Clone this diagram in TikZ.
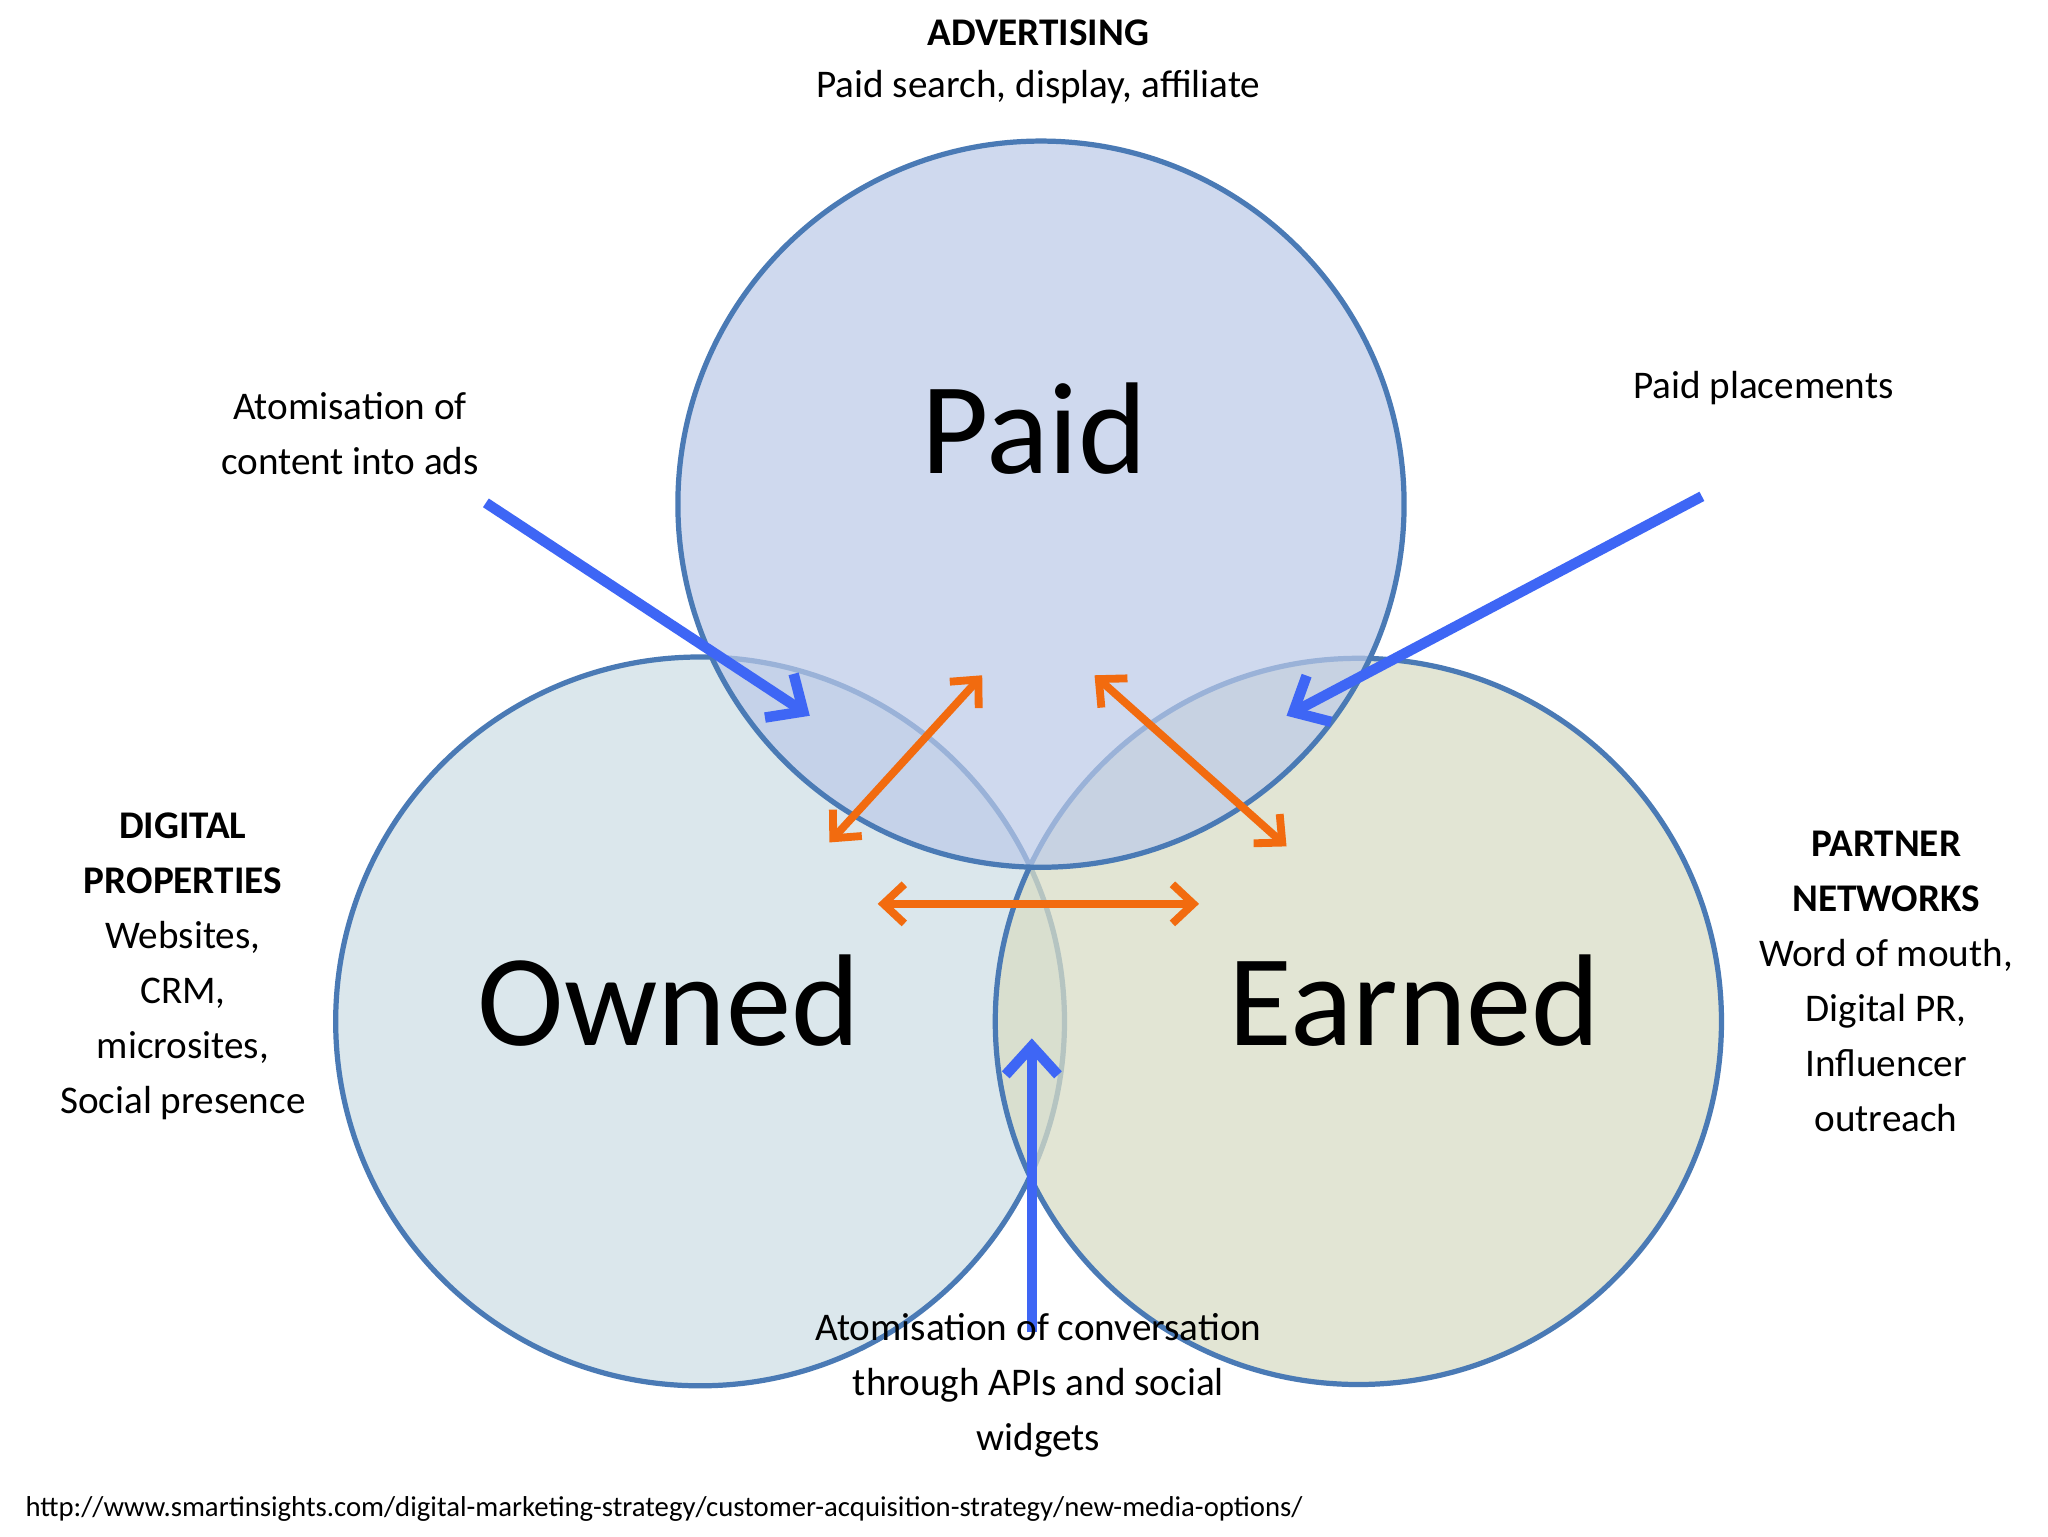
\documentclass[tikz,border=0pt]{standalone}
\usepackage{fontspec}
\setmainfont{Carlito}
\usetikzlibrary{arrows.meta}
\definecolor{edge}{HTML}{4A7AB5}
\definecolor{paidf}{HTML}{BCCAE8}
\definecolor{ownf}{HTML}{CFE0E6}
\definecolor{earnf}{HTML}{D9DDC6}
\definecolor{bl}{HTML}{3E66F5}
\definecolor{orr}{HTML}{F26B0F}
\tikzset{
 circ/.style={draw=edge,line width=4pt,fill opacity=0.75},
 lab/.style={font=\fontsize{30}{42}\selectfont,align=center},
 big/.style={font=\fontsize{100}{110}\selectfont},
 barrow/.style={bl,line width=8pt,-{Straight Barb[length=22pt,width=40pt]}},
 oarrow/.style={orr,line width=6pt,{Straight Barb[length=16pt,width=30pt]}-{Straight Barb[length=16pt,width=30pt]}}
}
\begin{document}
\begin{tikzpicture}[x=1pt,y=-1pt]
\useasboundingbox (0,0) rectangle (1568,1176);
\fill[white] (0,0) rectangle (1568,1176);
\draw[circ,fill=ownf] (536,782) circle (279);
\draw[circ,fill=earnf] (1040,782) circle (278);
\draw[circ,fill=paidf,fill opacity=0.7] (797,386) circle (278);
\node[big] (paid) at (792,328) {Paid};
\node[big] (owned) at (512,766) {Owned};
\node[big] (earned) at (1083,766) {Earned};
\node[lab,font=\fontsize{30}{42}\selectfont\bfseries] (adv) at (795,25) {ADVERTISING};
\node[lab] (advt) at (795,67) {Paid search, display, affiliate};
\node[lab] (atom) at (268,332) {Atomisation of\\content into ads};
\node[lab] (pp) at (1350,297) {Paid placements};
\node[lab,anchor=north] (dig) at (140,619) {\textbf{DIGITAL}\\\textbf{PROPERTIES}\\Websites,\\CRM,\\microsites,\\Social presence};
\node[lab,anchor=north] (part) at (1444,633) {\textbf{PARTNER}\\\textbf{NETWORKS}\\Word of mouth,\\Digital PR,\\Influencer\\outreach};
\coordinate (b1s) at (372,385); \coordinate (b1e) at (620,548);
\coordinate (b2s) at (1303,380); \coordinate (b2e) at (985,548);
\coordinate (b3s) at (790,1020); \coordinate (b3e) at (790,795);
\draw[barrow] (b1s) -- (b1e);
\draw[barrow] (b2s) -- (b2e);
\draw[barrow] (b3s) -- (b3e);
\coordinate (o1a) at (635,645); \coordinate (o1b) at (752,517);
\coordinate (o2a) at (838,517); \coordinate (o2b) at (985,648);
\coordinate (o3a) at (672,692); \coordinate (o3b) at (918,692);
\draw[oarrow] (o1a) -- (o1b);
\draw[oarrow] (o2a) -- (o2b);
\draw[oarrow] (o3a) -- (o3b);
\node[lab,anchor=north] (conv) at (795,1002) {Atomisation of conversation\\through APIs and social\\widgets};
\node[anchor=west,font=\fontsize{22}{26}\selectfont] (url) at (16,1155) {http://www.smartinsights.com/digital-marketing-strategy/customer-acquisition-strategy/new-media-options/};
\end{tikzpicture}
\end{document}
